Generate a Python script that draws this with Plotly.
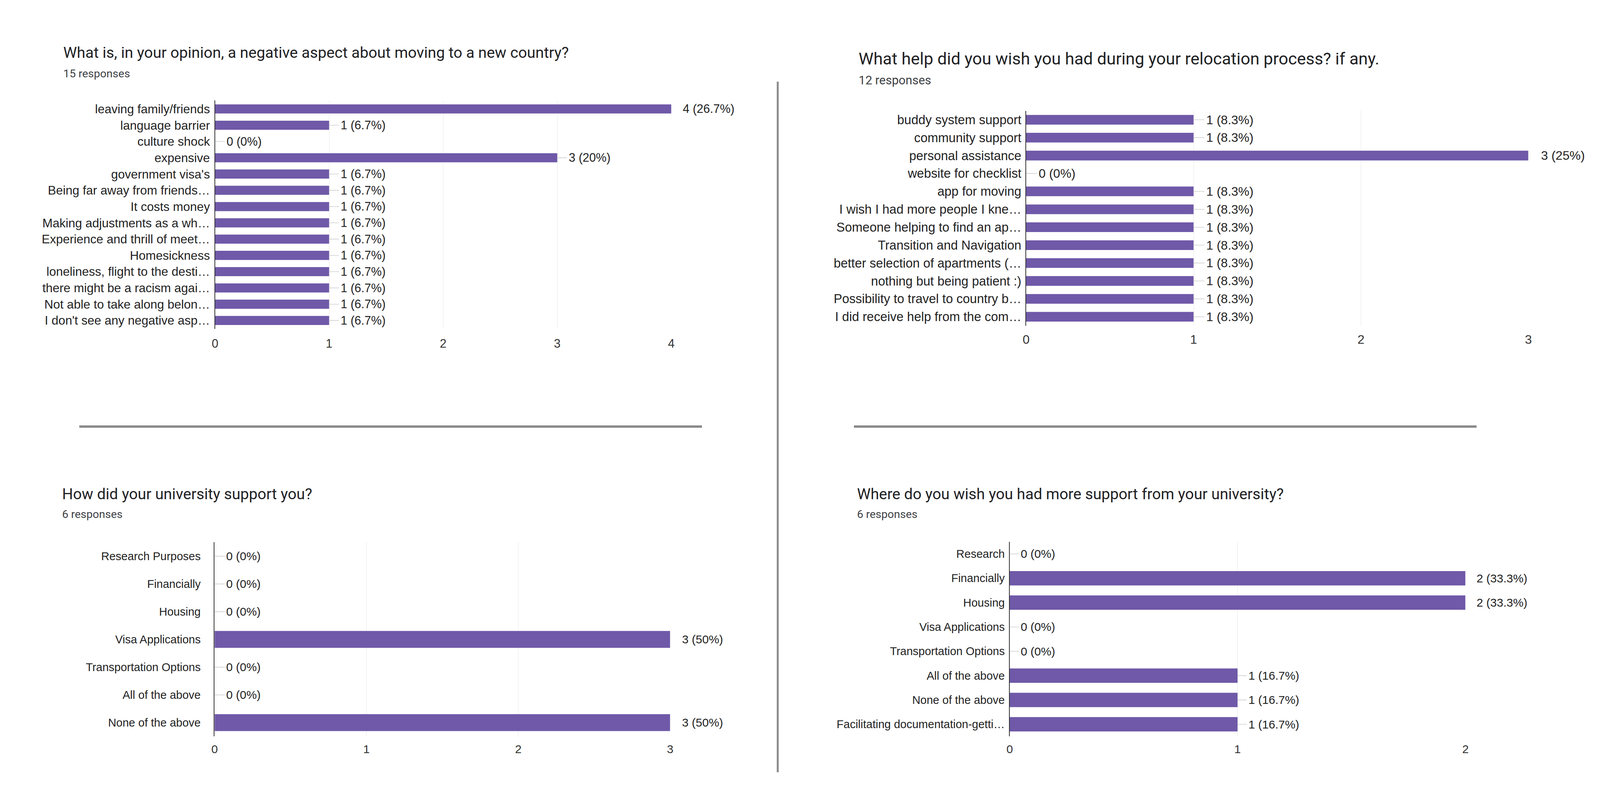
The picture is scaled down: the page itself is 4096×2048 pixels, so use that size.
import plotly.graph_objects as go

W, H = 4096, 2048
PURPLE = "#6f59a8"
STEM = "#cfcfcf"
DARK = "#222222"
TITLE_FONT = "Roboto, Arial, sans-serif"
CHART_FONT = "Liberation Sans, Arial, sans-serif"

# ---------------- data ----------------
p1_title = "What is, in your opinion, a negative aspect about moving to a new country?"
p1_sub = "15 responses"
p1_cats = [
    "leaving family/friends", "language barrier", "culture shock", "expensive",
    "government visa's", "Being far away from friends…", "It costs money",
    "Making adjustments as a wh…", "Experience and thrill of meet…", "Homesickness",
    "loneliness, flight to the desti…", "there might be a racism agai…",
    "Not able to take along belon…", "I don't see any negative asp…",
]
p1_counts = [4, 1, 0, 3, 1, 1, 1, 1, 1, 1, 1, 1, 1, 1]
p1_pcts = ["26.7%", "6.7%", "0%", "20%", "6.7%", "6.7%", "6.7%", "6.7%", "6.7%",
           "6.7%", "6.7%", "6.7%", "6.7%", "6.7%"]
p1_ticks = [0, 1, 2, 3, 4]

p2_title = "What help did you wish you had during your relocation process? if any."
p2_sub = "12 responses"
p2_cats = [
    "buddy system support", "community support", "personal assistance",
    "website for checklist", "app for moving", "I wish I had more people I kne…",
    "Someone helping to find an ap…", "Transition and Navigation",
    "better selection of apartments (…", "nothing but being patient :)",
    "Possibility to travel to country b…", "I did receive help from the com…",
]
p2_counts = [1, 1, 3, 0, 1, 1, 1, 1, 1, 1, 1, 1]
p2_pcts = ["8.3%", "8.3%", "25%", "0%", "8.3%", "8.3%", "8.3%", "8.3%", "8.3%",
           "8.3%", "8.3%", "8.3%"]
p2_ticks = [0, 1, 2, 3]

p3_title = "How did your university support you?"
p3_sub = "6 responses"
p3_cats = ["Research Purposes", "Financially", "Housing", "Visa Applications",
           "Transportation Options", "All of the above", "None of the above"]
p3_counts = [0, 0, 0, 3, 0, 0, 3]
p3_pcts = ["0%", "0%", "0%", "50%", "0%", "0%", "50%"]
p3_ticks = [0, 1, 2, 3]

p4_title = "Where do you wish you had more support from your university?"
p4_sub = "6 responses"
p4_cats = ["Research", "Financially", "Housing", "Visa Applications",
           "Transportation Options", "All of the above", "None of the above",
           "Facilitating documentation-getti…"]
p4_counts = [0, 2, 2, 0, 0, 1, 1, 1]
p4_pcts = ["0%", "33.3%", "33.3%", "0%", "0%", "16.7%", "16.7%", "16.7%"]
p4_ticks = [0, 1, 2]

# ---------------- layout specs (pixels) ----------------
panels = [
    dict(title=p1_title, sub=p1_sub, cats=p1_cats, counts=p1_counts, pcts=p1_pcts, ticks=p1_ticks,
         box=(550.5, 1718.6, 257.4, 841.9), title_xy=(159.5, 135), sub_xy=(159.5, 188),
         fs_title=39.3, fs_sub=28.5, fs_cat=31.5, fs_val=30.5, fs_tick=30.5,
         barw=0.56, cat_gap=5, tick_gap=17, ax=25),
    dict(title=p2_title, sub=p2_sub, cats=p2_cats, counts=p2_counts, pcts=p2_pcts, ticks=p2_ticks,
         box=(2627.0, 3912.6, 283.6, 833.9), title_xy=(2196, 149.6), sub_xy=(2196, 205),
         fs_title=43, fs_sub=31, fs_cat=32.5, fs_val=32, fs_tick=32,
         barw=0.54, cat_gap=4, tick_gap=13, ax=28),
    dict(title=p3_title, sub=p3_sub, cats=p3_cats, counts=p3_counts, pcts=p3_pcts, ticks=p3_ticks,
         box=(549.3, 1715.6, 1388.4, 1885.4), title_xy=(157.4, 1265.4), sub_xy=(157.4, 1316.4),
         fs_title=39.2, fs_sub=28.5, fs_cat=29, fs_val=30, fs_tick=30,
         barw=0.61, cat_gap=28, tick_gap=12, ax=26),
    dict(title=p4_title, sub=p4_sub, cats=p4_cats, counts=p4_counts, pcts=p4_pcts, ticks=p4_ticks,
         box=(2584.8, 3751.5, 1386.8, 1885.4), title_xy=(2192.4, 1264.6), sub_xy=(2192.4, 1316.5),
         fs_title=39.2, fs_sub=28.5, fs_cat=29, fs_val=30, fs_tick=30,
         barw=0.59, cat_gap=5, tick_gap=12, ax=24),
]

fig = go.Figure()
annotations = []
layout_axes = {}

for k, p in enumerate(panels):
    s = "" if k == 0 else str(k + 1)
    x0, x1, y0, y1 = p["box"]
    fig.add_trace(go.Bar(
        x=p["counts"], y=p["cats"], orientation="h",
        marker=dict(color=PURPLE, line=dict(width=0)),
        width=p["barw"], xaxis="x" + s, yaxis="y" + s, showlegend=False,
        hoverinfo="skip",
    ))
    layout_axes["xaxis" + s] = dict(
        domain=[x0 / W, x1 / W], anchor="y" + s,
        range=[0, max(p["ticks"])], tickmode="array", tickvals=p["ticks"],
        showgrid=True, gridcolor="#f3f3f3", gridwidth=1.5, zeroline=False,
        showline=False, ticks="", ticklabelstandoff=p["tick_gap"],
        tickfont=dict(family=CHART_FONT, size=p["fs_tick"], color="#333333"),
        fixedrange=True, automargin=False,
    )
    layout_axes["yaxis" + s] = dict(
        domain=[1 - y1 / H, 1 - y0 / H], anchor="x" + s,
        type="category", autorange="reversed",
        showline=True, linecolor="#333333", linewidth=1.6,
        showgrid=False, zeroline=False, ticks="", ticklabelstandoff=p["cat_gap"],
        tickfont=dict(family=CHART_FONT, size=p["fs_cat"], color=DARK),
        fixedrange=True, automargin=False,
    )
    vmax = max(p["counts"])
    for c, v, pc in zip(p["cats"], p["counts"], p["pcts"]):
        annotations.append(dict(
            x=v, y=c, xref="x" + s, yref="y" + s,
            text=f"{v} ({pc})", showarrow=True, arrowhead=0, arrowwidth=1.6,
            arrowcolor=STEM if v < vmax else "rgba(0,0,0,0)",
            ax=p["ax"], ay=0, xanchor="left", yanchor="middle", borderpad=3,
            font=dict(family=CHART_FONT, size=p["fs_val"], color=DARK),
        ))
    tx, ty = p["title_xy"]
    annotations.append(dict(
        x=tx / W, y=1 - ty / H, xref="paper", yref="paper", text=p["title"],
        showarrow=False, xanchor="left", yanchor="middle",
        font=dict(family=TITLE_FONT, size=p["fs_title"], color="#202124"),
    ))
    sx, sy = p["sub_xy"]
    annotations.append(dict(
        x=sx / W, y=1 - sy / H, xref="paper", yref="paper", text=p["sub"],
        showarrow=False, xanchor="left", yanchor="middle",
        font=dict(family=TITLE_FONT, size=p["fs_sub"], color="#3c4043"),
    ))

shapes = [
    dict(type="line", xref="paper", yref="paper", x0=1991 / W, x1=1991 / W,
         y0=1 - 209 / H, y1=1 - 1977 / H, line=dict(color="#8c8c8c", width=5)),
    dict(type="line", xref="paper", yref="paper", x0=203 / W, x1=1797 / W,
         y0=1 - 1092 / H, y1=1 - 1092 / H, line=dict(color="#8a8a8a", width=6)),
    dict(type="line", xref="paper", yref="paper", x0=2186 / W, x1=3780 / W,
         y0=1 - 1092 / H, y1=1 - 1092 / H, line=dict(color="#8a8a8a", width=6)),
]

fig.update_layout(
    width=W, height=H, margin=dict(l=0, r=0, t=0, b=0, autoexpand=False),
    paper_bgcolor="white", plot_bgcolor="white",
    annotations=annotations, shapes=shapes, showlegend=False,
    **layout_axes,
)

fig.write_html(
    "out.html",
    config={"displayModeBar": False},
    post_script="document.body.style.margin='0';document.body.style.overflow='hidden';",
)
